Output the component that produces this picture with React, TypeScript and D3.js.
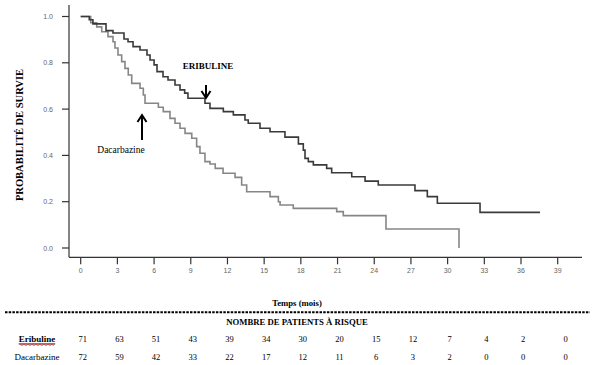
import * as d3 from "d3";

const W = 593;
const H = 365;

// Kaplan-Meier steps: [months, survival]
const eribuline: [number, number][] = [
  [0, 1], [0.7, 0.986], [1.0, 0.968], [2.07, 0.939], [2.64, 0.929], [3.54, 0.903],
  [3.87, 0.891], [4.28, 0.87], [4.85, 0.855], [5.42, 0.834], [5.67, 0.812], [6.0, 0.791],
  [6.24, 0.762], [6.73, 0.74], [7.14, 0.726], [7.71, 0.704], [8.12, 0.683], [8.5, 0.669],
  [8.77, 0.647], [10.16, 0.625], [10.57, 0.603], [11.66, 0.589], [12.48, 0.575],
  [13.43, 0.553], [13.7, 0.539], [14.66, 0.517], [15.48, 0.502], [16.7, 0.479],
  [17.8, 0.45], [18.2, 0.423], [18.34, 0.387], [18.61, 0.373], [19.02, 0.359],
  [20.11, 0.344], [20.52, 0.325], [22.16, 0.308], [23.25, 0.289], [24.33, 0.272],
  [27.33, 0.248], [28.34, 0.222], [29.16, 0.193], [32.65, 0.154], [37.55, 0.154],
];

const dacarbazine: [number, number][] = [
  [0, 1], [0.82, 0.973], [1.31, 0.955], [1.72, 0.934], [2.23, 0.913], [2.64, 0.891],
  [2.8, 0.864], [3.05, 0.834], [3.35, 0.805], [3.62, 0.776], [3.89, 0.747], [4.17, 0.711],
  [4.85, 0.69], [5.12, 0.661], [5.26, 0.625], [6.35, 0.608], [6.75, 0.589], [7.3, 0.56],
  [7.71, 0.539], [8.12, 0.517], [8.53, 0.495], [9.08, 0.474], [9.48, 0.438], [9.75, 0.409],
  [10.16, 0.373], [10.57, 0.363], [11.0, 0.344], [11.64, 0.323], [12.62, 0.305],
  [13.16, 0.272], [13.57, 0.243], [15.48, 0.222], [16.16, 0.2], [16.3, 0.186],
  [17.38, 0.171], [20.93, 0.157], [21.47, 0.14], [24.96, 0.082], [30.93, 0.082], [30.93, 0.0],
];

const xTicks = [0, 3, 6, 9, 12, 15, 18, 21, 24, 27, 30, 33, 36, 39];
const yTicks = [0, 0.2, 0.4, 0.6, 0.8, 1.0];

const riskLabels = ["Eribuline", "Dacarbazine"];
const riskEribuline = [71, 63, 51, 43, 39, 34, 30, 20, 15, 12, 7, 4, 2, 0];
const riskDacarbazine = [72, 59, 42, 33, 22, 17, 12, 11, 6, 3, 2, 0, 0, 0];

const SERIF = "'Liberation Serif', 'Times New Roman', serif";
const SANS = "'Liberation Sans', Arial, sans-serif";

const App = () => {
  const x = d3.scaleLinear().domain([0, 39]).range([80.7, 557.7]);
  const y = d3.scaleLinear().domain([0, 1]).range([248, 16.5]);

  const line = d3
    .line<[number, number]>()
    .x((d) => x(d[0]))
    .y((d) => y(d[1]))
    .curve(d3.curveStepAfter);

  const axisY = 257.3;
  const axisX = 69;
  const rows = [riskEribuline, riskDacarbazine];
  const rowY = [338.5, 356.5];
  // table columns sit close to the month ticks
  const colX = (k: number) => x(xTicks[k]) + 2 + (k === xTicks.length - 1 ? 6 : 0);

  return (
    <svg
      width={W}
      height={H}
      style={{ position: "absolute", left: 0, top: 0, background: "#fff" }}
    >
      {/* axes */}
      <line x1={axisX} x2={axisX} y1={5} y2={axisY} stroke="#333" strokeWidth={1.2} />
      <line x1={axisX} x2={582} y1={axisY} y2={axisY} stroke="#333" strokeWidth={1.2} />
      {yTicks.map((t) => (
        <g key={t}>
          <line x1={axisX - 7} x2={axisX} y1={y(t)} y2={y(t)} stroke="#333" strokeWidth={1.2} />
          <text
            x={53}
            y={y(t)}
            textAnchor="end"
            dominantBaseline="central"
            fontFamily={SANS}
            fontSize={7}
            fill="#666"
          >
            {t.toFixed(1)}
          </text>
        </g>
      ))}
      {xTicks.map((t) => (
        <g key={t}>
          <line x1={x(t)} x2={x(t)} y1={axisY} y2={axisY + 7} stroke="#333" strokeWidth={1.2} />
          <text
            x={x(t)}
            y={270}
            textAnchor="middle"
            dominantBaseline="central"
            fontFamily={SANS}
            fontSize={7}
            fill="#666"
          >
            {t}
          </text>
        </g>
      ))}

      {/* curves */}
      <path d={line(dacarbazine) || ""} fill="none" stroke="#868686" strokeWidth={1.6} />
      <path d={line(eribuline) || ""} fill="none" stroke="#3a3a3a" strokeWidth={1.6} />

      {/* annotations */}
      <text x={208} y={66} textAnchor="middle" dominantBaseline="central" fontFamily={SERIF} fontWeight="bold" fontSize={9}>
        ERIBULINE
      </text>
      <line x1={206} x2={206} y1={85} y2={96} stroke="#000" strokeWidth={2} />
      <path d="M201.5,91 L206,98 L210.5,91" fill="none" stroke="#000" strokeWidth={2} />
      <line x1={142} x2={142} y1={117} y2={140} stroke="#000" strokeWidth={2} />
      <path d="M137.5,122 L142,115 L146.5,122" fill="none" stroke="#000" strokeWidth={2} />
      <text x={121} y={150} textAnchor="middle" dominantBaseline="central" fontFamily={SERIF} fontSize={9.5} fill="#000">
        Dacarbazine
      </text>

      {/* axis titles */}
      <text
        transform="translate(19,135) rotate(-90)"
        textAnchor="middle"
        dominantBaseline="central"
        fontFamily={SERIF}
        fontWeight="bold"
        fontSize={10.5}
      >
        PROBABILITÉ DE SURVIE
      </text>
      <text x={297} y={303} textAnchor="middle" dominantBaseline="central" fontFamily={SERIF} fontWeight="bold" fontSize={8.7}>
        Temps (mois)
      </text>

      {/* risk table */}
      <line x1={5} x2={590} y1={312.3} y2={312.3} stroke="#000" strokeWidth={2} strokeDasharray="2.5,1.2" />
      <text x={297} y={322} textAnchor="middle" dominantBaseline="central" fontFamily={SERIF} fontWeight="bold" fontSize={8.7}>
        NOMBRE DE PATIENTS À RISQUE
      </text>
      {riskLabels.map((lab, i) => (
        <text
          key={lab}
          x={37}
          y={rowY[i]}
          textAnchor="middle"
          dominantBaseline="central"
          fontFamily={SERIF}
          fontWeight={i === 0 ? "bold" : "normal"}
          textDecoration={i === 0 ? "underline" : undefined}
          fontSize={9}
        >
          {lab}
        </text>
      ))}
      <path
        d={d3.range(20, 56, 2).map((v, k) => `${k === 0 ? "M" : "L"}${v},${rowY[0] + 6 + (k % 2 ? 1 : -0.2)}`).join(" ")}
        fill="none"
        stroke="#d33"
        strokeWidth={0.8}
      />
      {rows.map((vals, i) =>
        vals.map((v, k) => (
          <text
            key={`${i}-${k}`}
            x={colX(k)}
            y={rowY[i]}
            textAnchor="middle"
            dominantBaseline="central"
            fontFamily={SERIF}
            fontSize={8.5}
          >
            {v}
          </text>
        ))
      )}
    </svg>
  );
};

export default App;
